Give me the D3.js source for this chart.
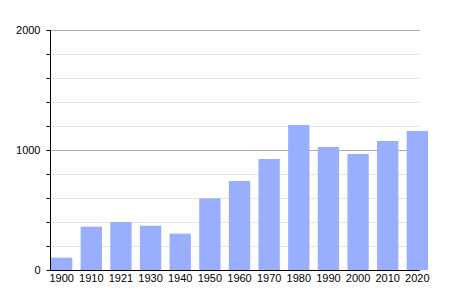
<!DOCTYPE html>
<html>
<head>
<meta charset="utf-8">
<script src="https://cdn.jsdelivr.net/npm/d3@7"></script>
<style>
  body { margin: 0; background: #fff; }
  svg { display: block; font-family: "Liberation Sans", Arial, sans-serif; }
</style>
</head>
<body>
<div id="chart"></div>
<script>
const years = ["1900", "1910", "1921", "1930", "1940", "1950", "1960", "1970", "1980", "1990", "2000", "2010", "2020"];
const population = [103, 361, 400, 369, 303, 597, 742, 925, 1208, 1025, 967, 1075, 1158];
const majorTicks = [0, 1000, 2000];
const minorTicks = [200, 400, 600, 800, 1200, 1400, 1600, 1800];

const width = 450;
const height = 300;
const plotLeft = 50;
const plotRight = 420;
const plotTop = 30;
const plotBottom = 270;

const svg = d3
  .select("#chart")
  .append("svg")
  .attr("width", width)
  .attr("height", height);

const x = d3
  .scaleBand()
  .domain(years)
  .range([51, 428])
  .paddingInner(0.28)
  .paddingOuter(0);

const y = d3.scaleLinear().domain([0, 2000]).range([plotBottom, plotTop]);

// minor grid
svg
  .selectAll(".minor")
  .data(minorTicks)
  .enter()
  .append("line")
  .attr("x1", plotLeft)
  .attr("x2", plotRight)
  .attr("y1", (d) => y(d) + 0.5)
  .attr("y2", (d) => y(d) + 0.5)
  .attr("stroke", "#e4e4e4");

// major grid
svg
  .selectAll(".major")
  .data(majorTicks.filter((d) => d > 0))
  .enter()
  .append("line")
  .attr("x1", plotLeft)
  .attr("x2", plotRight)
  .attr("y1", (d) => y(d) + 0.5)
  .attr("y2", (d) => y(d) + 0.5)
  .attr("stroke", "#aaaaaa");

// bars
svg
  .selectAll(".bar")
  .data(population)
  .enter()
  .append("rect")
  .attr("class", "bar")
  .attr("x", (d, i) => x(years[i]))
  .attr("y", (d) => y(d))
  .attr("width", x.bandwidth())
  .attr("height", (d) => plotBottom - y(d))
  .attr("fill", "#9aaefe");

// left axis
const yAxis = svg
  .append("g")
  .attr("transform", `translate(${plotLeft + 0.5},0)`)
  .call(
    d3
      .axisLeft(y)
      .tickValues(majorTicks.concat(minorTicks))
      .tickSize(4)
      .tickFormat((d) => (majorTicks.includes(d) ? d : ""))
  );
yAxis.select(".domain").attr("d", `M0,${plotTop}V${plotBottom}`).attr("stroke", "#000");
yAxis.selectAll(".tick line").attr("stroke", "#000");
yAxis
  .selectAll(".tick text")
  .attr("x", -10)
  .attr("fill", "#000")
  .style("font-size", "11px");

// bottom axis
const xAxis = svg
  .append("g")
  .attr("transform", `translate(0,${plotBottom + 0.5})`)
  .call(d3.axisBottom(x).tickSize(0).tickPadding(4));
xAxis.select(".domain").attr("d", `M${plotLeft},0H${plotRight}`).attr("stroke", "#000");
xAxis
  .selectAll(".tick text")
  .attr("fill", "#000")
  .style("font-size", "11px");
</script>
</body>
</html>
